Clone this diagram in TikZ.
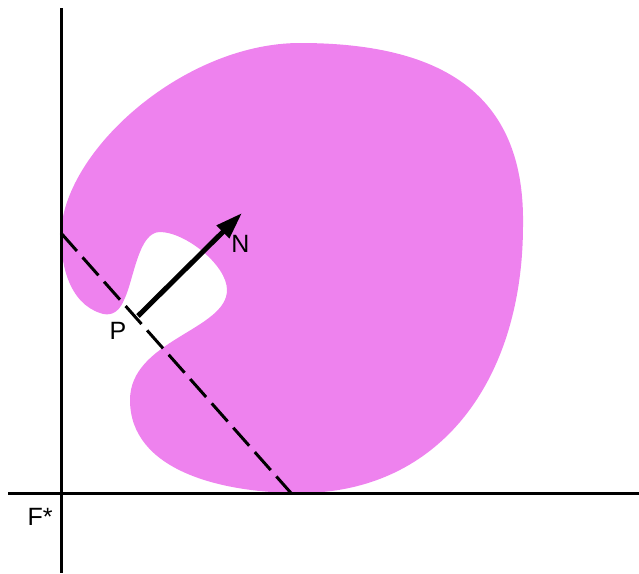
\documentclass[tikz,border=0pt]{standalone}
\usepackage{fontspec}
\setmainfont{Liberation Sans}
\usetikzlibrary{arrows.meta}
\definecolor{blob}{RGB}{238,130,238}
\tikzset{
  axisline/.style={line width=3pt,black},
  dashline/.style={line width=3pt,black,dash pattern=on 24pt off 8.5pt},
  normalarrow/.style={line width=5pt,black,-{Triangle[length=27pt,width=17pt]}},
  lab/.style={font=\fontsize{25}{29}\selectfont,inner sep=0pt}
}
\begin{document}
\begin{tikzpicture}[x=1pt,y=-1pt]
\useasboundingbox (0,0) rectangle (639,573);
\fill[blob] (62,222) .. controls (75,140) and (190,43) .. (300,43)
  .. controls (450,43) and (525,100) .. (523,225)
  .. controls (523,380) and (440,493) .. (300,493)
  .. controls (220,493) and (130,470) .. (130,400)
  .. controls (130,340) and (227,330) .. (227,290)
  .. controls (227,265) and (185,232) .. (160,232)
  .. controls (138,232) and (134,280) .. (124,300)
  .. controls (118,315) and (108,316) .. (100,313)
  .. controls (70,303) and (58,265) .. (62,222) -- cycle;
\coordinate (ytop) at (61,8);
\coordinate (ybot) at (61,573);
\coordinate (xleft) at (8,493);
\coordinate (xright) at (639,493);
\coordinate (dA) at (61,233);
\coordinate (dB) at (291,493);
\coordinate (p0) at (138,316);
\coordinate (n0) at (242,213);
\draw[axisline] (ytop) -- (ybot);
\draw[axisline] (xleft) -- (xright);
\draw[dashline] (dA) -- (dB);
\draw[normalarrow] (p0) -- (n0);
\node[lab] (N) at (240.5,244) {N};
\node[lab] (P) at (118,331) {P};
\node[lab] (F) at (40,517) {F*};
\end{tikzpicture}
\end{document}
